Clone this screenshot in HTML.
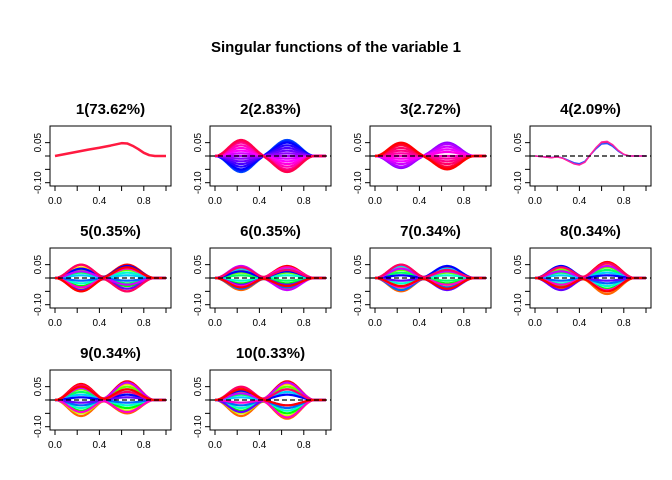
<!DOCTYPE html>
<html><head><meta charset="utf-8"><style>
body{margin:0;background:#fff}
svg{display:block;font-family:"Liberation Sans",Arial,sans-serif}
</style></head><body>
<svg id="c" width="672" height="480">
<text x="336" y="52" text-anchor="middle" font-size="15" font-weight="bold">Singular functions of the variable 1</text>
</svg>
<script>
const titles=["1(73.62%)","2(2.83%)","3(2.72%)","4(2.09%)","5(0.35%)","6(0.35%)","7(0.34%)","8(0.34%)","9(0.34%)","10(0.33%)"];
const xTicks=[0,0.2,0.4,0.6,0.8,1.0];
const xTickLabels=["0.0","","0.4","","0.8",""];
const yTicks=[0.05,0,-0.05,-0.10];
const yTickLabels=["0.05","","","-0.10"];
const p1x=[0,0.1,0.2,0.3,0.4,0.5,0.6,0.65,0.7,0.75,0.8,0.85,0.9,1.0];
const p1y=[0,0.008,0.016,0.024,0.031,0.039,0.048,0.047,0.038,0.026,0.012,0.003,0,0];
const p4x=[0,0.05,0.1,0.15,0.2,0.25,0.3,0.35,0.4,0.45,0.5,0.55,0.6,0.65,0.7,0.75,0.8,0.85,0.9,1.0];
const p4y=[0,-0.002,-0.004,-0.006,-0.003,-0.008,-0.018,-0.028,-0.032,-0.022,0.005,0.03,0.05,0.052,0.04,0.02,0.006,0,0,0];
const amp1=[
 [-0.06,-0.055,-0.05,-0.04,-0.03,-0.02,-0.01,0,0.01,0.02,0.03,0.04,0.05,0.055,0.06],
 [-0.045,-0.04,-0.03,-0.02,-0.01,0,0.01,0.02,0.03,0.04,0.045,0.05],
 null,
 [0.05,-0.05,0.04,-0.04,0.03,-0.03,0.02,-0.02,0.01,-0.01,0.035,-0.045,0.025,-0.035,0.05,-0.05],
 [0.04,-0.045,0.03,-0.03,0.02,-0.02,0.01,-0.01,0.035,-0.04,0.025,-0.025,0.045,-0.03,0.04,-0.035],
 [0.05,-0.05,0.04,-0.04,0.03,-0.03,0.02,-0.02,0.045,-0.045,0.01,-0.01,0.035,-0.035,0.05,-0.03],
 [0.04,-0.04,0.035,-0.035,0.03,-0.03,0.02,-0.02,0.01,-0.01,0.045,-0.045,0.025,-0.025,0.04,-0.035],
 [0.06,-0.06,0.05,-0.05,0.04,-0.04,0.03,-0.03,0.02,-0.02,0.01,-0.01,0.045,-0.045,0.055,0.05],
 [0.045,-0.06,0.04,-0.05,0.03,-0.04,0.02,-0.03,0.01,-0.02,0.035,-0.045,0.025,-0.01,0.05,0.04]
];
const amp2=[
 [0.06,0.055,0.05,0.04,0.03,0.02,0.01,0,-0.01,-0.02,-0.03,-0.04,-0.05,-0.055,-0.06],
 [0.05,0.045,0.035,0.025,0.015,0,-0.01,-0.02,-0.03,-0.04,-0.045,-0.05],
 null,
 [0.05,-0.05,-0.04,0.04,0.03,-0.03,-0.02,0.02,0.01,-0.01,0.045,-0.04,-0.025,0.035,-0.05,0.04],
 [0.045,-0.04,-0.03,0.03,0.02,-0.02,-0.01,0.01,0.035,-0.035,0.025,-0.025,-0.045,0.04,0.03,-0.03],
 [0.04,-0.04,-0.03,0.03,0.02,-0.02,-0.01,0.01,0.035,-0.035,0.045,-0.045,0.025,-0.025,0.03,-0.04],
 [0.06,-0.06,0.05,-0.05,0.04,-0.04,0.03,-0.03,0.02,-0.02,0.01,-0.01,0.045,-0.045,0.055,-0.05],
 [0.07,-0.05,0.06,-0.04,0.05,-0.03,0.04,-0.02,0.03,-0.01,0.02,0.01,0.065,-0.045,0.03,0.04],
 [0.07,-0.07,0.06,-0.06,0.05,-0.05,0.04,-0.04,0.03,-0.03,0.02,-0.02,0.065,-0.065,0.04,-0.02]
];
const hueRange=[[0.62,0.95],[0.76,1.0],null,[0,1],[0,1],[0,1],[0,1],[0,1],[0,1]];
const svg=document.getElementById('c');const NS="http://www.w3.org/2000/svg";
function mk(t,a,p){const e=document.createElementNS(NS,t);for(const k in a)e.setAttribute(k,a[k]);(p||svg).appendChild(e);return e;}
function b1(x){return x>0&&x<0.47?Math.pow(Math.sin(Math.PI*x/0.47),2):0;}
function b2(x){return x>0.4&&x<0.9?Math.pow(Math.sin(Math.PI*(x-0.4)/0.5),2):0;}
const W=121,H=60,x0=50,y0=126,dx=160,dy=122;
titles.forEach((t,i)=>{
 const r=Math.floor(i/4),c=i%4;const L=x0+c*dx,T=y0+r*dy;
 const g=mk('g',{});
 
 
 const sx=v=>L+5+v*111, sy=v=>T+30-v*267;
 const tt=mk('text',{x:L+W/2,y:T-12,'text-anchor':'middle','font-size':15,'font-weight':'bold'},g);tt.textContent=t;
 
 
 mk('rect',{x:L,y:T,width:W,height:H,fill:'none',stroke:'#000'},g);
 xTicks.forEach((v,k)=>{mk('line',{x1:sx(v),x2:sx(v),y1:T+H,y2:T+H+5,stroke:'#000'},g);
  if(xTickLabels[k]){const e=mk('text',{x:sx(v),y:T+H+18,'text-anchor':'middle','font-size':10},g);e.textContent=xTickLabels[k];}});
 yTicks.forEach((v,k)=>{mk('line',{x1:L-5,x2:L,y1:sy(v),y2:sy(v),stroke:'#000'},g);
  if(yTickLabels[k]){const e=mk('text',{x:0,y:0,'text-anchor':'middle','font-size':10,transform:`translate(${L-9},${sy(v)}) rotate(-90)`},g);e.textContent=yTickLabels[k];}});
 const line=(xs,ys,col,w)=>{const p=mk('polyline',{points:xs.map((x,k)=>sx(x)+','+sy(ys[k])).join(' '),fill:'none',stroke:col,'stroke-width':w,'stroke-linejoin':'round'},g);
  
  };
 if(i===0){line(p1x,p1y,'#ff1a40',2.5);return;}
 if(i===3){line(p4x,p4y,'#ff1a60',1.5);line(p4x,p4y.map(v=>v*0.9),'#3050ff',1.5);line(p4x,p4y.map(v=>v*1.05),'#ff20a0',1.5);}
 else{
  const A=amp1[i-1],B=amp2[i-1],hr=hueRange[i-1];const n=A.length;
  const xs=[];for(let k=0;k<=100;k++)xs.push(k/100);
  A.forEach((a,k)=>{const h=(hr[0]+(hr[1]-hr[0])*k/(n-1))*360;
   line(xs,xs.map(x=>a*b1(x)+B[k]*b2(x)),`hsl(${h},100%,50%)`,2.2);});
 }
 mk('line',{x1:L,x2:L+W,y1:sy(0),y2:sy(0),stroke:'#000','stroke-dasharray':'5,3','stroke-width':1.2},g);
});
</script>
</body></html>
